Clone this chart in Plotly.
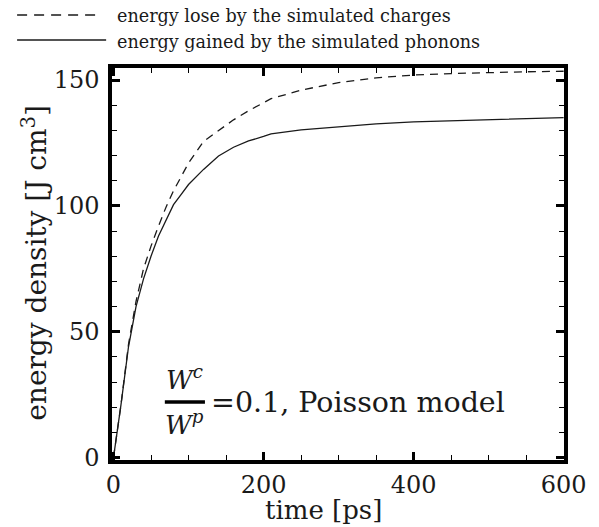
import plotly.graph_objects as go

# time [ps]
time_ps = [0, 5, 10, 20, 30, 40, 50, 60, 70, 80, 90, 100, 120, 140, 160, 180, 200, 210,
           250, 300, 350, 400, 450, 500, 550, 600]
# energy lost by the simulated charges [J cm^-3]
charges = [0, 10, 21, 45, 62, 75, 84, 92, 99.5, 106, 111.5, 117, 125.6, 130, 134.2, 137.8,
           141, 142.6, 146, 149, 150.9, 152, 152.6, 153.0, 153.3, 153.5]
# energy gained by the simulated phonons [J cm^-3]
phonons = [0, 10, 21, 44, 60, 71, 80, 88, 94.5, 100.5, 104.5, 108.5, 114.5, 119.8, 123.3, 125.8,
           127.6, 128.6, 130.2, 131.5, 132.6, 133.4, 133.8, 134.2, 134.6, 135.1]

x_ticks = [0, 200, 400, 600]
y_ticks = [0, 50, 100, 150]

FONT = "DejaVu Serif"
INK = "#1a1a1a"

L, R, T, B = 112, 25, 68, 67
W, H = 599, 527
PW, PH = W - L - R, H - T - B


def xp(px):
    return (px - L) / PW


def yp(py):
    return (H - B - py) / PH


fig = go.Figure()
fig.add_trace(go.Scatter(x=time_ps, y=charges, mode="lines",
                         line=dict(color=INK, width=1.3, dash="8px,6px"),
                         name="energy lose by the simulated charges", showlegend=False))
fig.add_trace(go.Scatter(x=time_ps, y=phonons, mode="lines",
                         line=dict(color=INK, width=1.3),
                         name="energy gained by the simulated phonons", showlegend=False))

axis_common = dict(showline=True, linewidth=3.5, linecolor="black", mirror="allticks",
                   ticks="inside", ticklen=8, tickwidth=2.5, tickcolor="black",
                   showgrid=False, zeroline=False,
                   tickfont=dict(family=FONT, size=24, color=INK))

fig.update_xaxes(range=[-2, 600.5], tickvals=x_ticks, ticktext=[str(v) for v in x_ticks],
                 minor=dict(ticks="inside", ticklen=5, tickwidth=1, tickcolor="black",
                            dtick=50, tick0=0, showgrid=False),
                 **axis_common)
fig.update_yaxes(range=[-1, 154.8], tickvals=y_ticks, ticktext=[str(v) for v in y_ticks],
                 ticklabelstandoff=4,
                 minor=dict(ticks="inside", ticklen=5, tickwidth=1, tickcolor="black",
                            dtick=10, tick0=0, showgrid=False),
                 **axis_common)

shapes = [
    # legend samples
    dict(type="line", xref="paper", yref="paper", x0=xp(15), x1=xp(100), y0=yp(15), y1=yp(15),
         line=dict(color=INK, width=1.3, dash="10px,7px")),
    dict(type="line", xref="paper", yref="paper", x0=xp(15), x1=xp(106), y0=yp(40), y1=yp(40),
         line=dict(color=INK, width=1.3)),
    # fraction bar
    dict(type="line", xref="paper", yref="paper", x0=xp(166), x1=xp(207), y0=yp(402), y1=yp(402),
         line=dict(color="black", width=3.5)),
]

annotations = [
    dict(text="energy lose by the simulated charges", x=xp(115), y=yp(16),
         xanchor="left", yanchor="middle", font=dict(family=FONT, size=17.6, color=INK)),
    dict(text="energy gained by the simulated phonons", x=xp(115), y=yp(42),
         xanchor="left", yanchor="middle", font=dict(family=FONT, size=17.6, color=INK)),
    dict(text="<i>W</i><sup><i>c</i></sup>", x=xp(186), y=yp(378),
         xanchor="center", yanchor="middle", font=dict(family=FONT, size=26, color=INK)),
    dict(text="<i>W</i><sup><i>p</i></sup>", x=xp(186), y=yp(423),
         xanchor="center", yanchor="middle", font=dict(family=FONT, size=26, color=INK)),
    dict(text="=0.1, Poisson model", x=xp(211), y=yp(402),
         xanchor="left", yanchor="middle", font=dict(family=FONT, size=28.5, color=INK)),
    dict(text="time [ps]", x=xp(328), y=yp(510),
         xanchor="center", yanchor="middle", font=dict(family=FONT, size=26, color=INK)),
    dict(text="energy density [J cm<sup>3</sup>]", x=xp(33), y=yp(263), textangle=-90,
         xanchor="center", yanchor="middle", font=dict(family=FONT, size=28, color=INK)),
]
for a in annotations:
    a.update(xref="paper", yref="paper", showarrow=False)

fig.update_layout(width=W, height=H, margin=dict(l=L, r=R, t=T, b=B),
                  paper_bgcolor="white", plot_bgcolor="white",
                  shapes=shapes, annotations=annotations, showlegend=False)

fig.write_html("out.html")
